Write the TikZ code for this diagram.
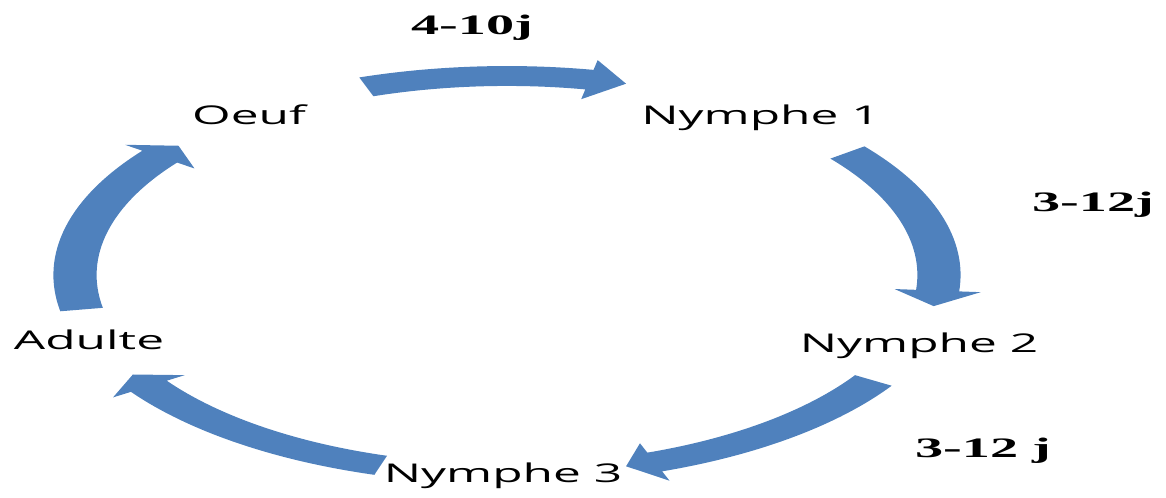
\documentclass[tikz,border=0pt]{standalone}
\usepackage{graphicx}
\usepackage{fontspec}
\newfontfamily\stagefont{Open Sans}
\newfontfamily\daysfont{Liberation Serif}
\definecolor{cycleblue}{RGB}{79,129,189}
\def\stretched[#1]#2{\scalebox{#1}[1]{#2}}
\def\cyclearrow(#1:#2:#3){\fill[cycleblue] (#1:1.05) arc[start angle=#1, end angle=#2, radius=1.05] -- (#2:1.1) -- (#3:1) -- (#2:0.9) -- (#2:0.95) arc[start angle=#2, end angle=#1, radius=0.95] -- cycle;}
\tikzset{
  stage/.style={anchor=base, inner sep=0pt, font=\stagefont\fontsize{14.7}{17}\selectfont},
  days/.style={anchor=base, inner sep=0pt, font=\daysfont\bfseries\fontsize{16}{19}\selectfont}
}

\begin{document}
\begin{tikzpicture}
	%%%%% START %%%%%
	\useasboundingbox (-10.14, -4.46) rectangle (13.18, 5.5);
	
	% arrows of the cycle
	\begin{scope}[x=8.64cm, y=3.98cm]
		\cyclearrow(109:79:74)
		\cyclearrow(38:-4.5:-9)
		\cyclearrow(-32:-70:-74)
		\cyclearrow(-107:-146:-150)
		\cyclearrow(190:143.5:139.5)
	\end{scope}
	
	% stages
	\node[stage] (oeuf) at (-5.16, 3.0) {\stretched[1.92]{Oeuf}};
	\node[stage] (nymphe1) at (5.07, 3.0) {\stretched[1.92]{Nymphe 1}};
	\node[stage] (nymphe2) at (8.24, -1.56) {\stretched[1.92]{Nymphe 2}};
	\node[stage] (nymphe3) at (-0.08, -4.16) {\stretched[1.92]{Nymphe 3}};
	\node[stage] (adulte) at (-8.36, -1.5) {\stretched[1.92]{Adulte}};
	
	% durations
	\node[days] (days1) at (-0.7, 4.8) {\stretched[2]{4-10j}};
	\node[days] (days2) at (11.72, 1.26) {\stretched[2]{3-12j}};
	\node[days] (days3) at (9.52, -3.66) {\stretched[2]{3-12 j}};
	
	%%%%% END %%%%%
\end{tikzpicture}
\end{document}
